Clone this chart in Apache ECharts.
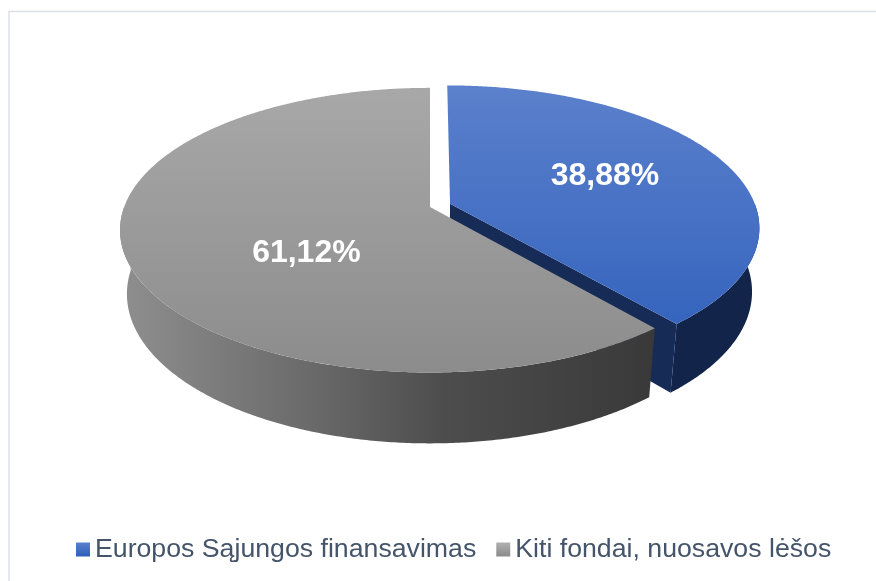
<!DOCTYPE html>
<html><head><meta charset="utf-8">
<script src="https://cdn.jsdelivr.net/npm/echarts@6/dist/echarts.min.js"></script>
<style>html,body{margin:0;padding:0;background:#fff}#c{width:876px;height:581px}</style>
</head><body><div id="c"></div>
<script>
// ---- data ----
const categories = ['Europos Sąjungos finansavimas', 'Kiti fondai, nuosavos lėšos'];
const shares = [38.88, 61.12];
const labels = ['38,88%', '61,12%'];

// ---- style / layout ----
const topColors = [['#5b80cc', '#2e5fbb'], ['#a8a8a8', '#8c8c8c']];
const wallStops = [
  [[0, '#172b57'], [1, '#12244a']],
  [[0, '#8e8e8e'], [0.35, '#6a6a6a'], [0.6, '#4d4d4d'], [1, '#393939']]
];
const legendColors = [['#5b80cc', '#2e5fbb'], ['#b0b0b0', '#8a8a8a']];
const explode = [0.07, 0];
const labelRadius = [0.56, 0.42];
const labelShift = [[0, -2], [0, 26]];
const cam = { cx: 430, cy: 207, F: 1573, D: 5.4, phi: 28.4 * Math.PI / 180, sx: 1.05, h: 0.252 };

const S = Math.sin(cam.phi), C = Math.cos(cam.phi);
function proj(X, Y, Z) {
  const d = cam.D - (Y * S + Z * C);
  return [cam.cx + cam.sx * cam.F * X / d, cam.cy - cam.F * (Y * C - Z * S) / d];
}
const rad = a => a * Math.PI / 180;
const total = shares.reduce((a, b) => a + b, 0);

function sliceAngles(i) {
  let before = 0;
  for (let k = 0; k < i; k++) before += shares[k];
  return [before / total * 360, (before + shares[i]) / total * 360];
}

function rimPts(ox, oz, a0, a1, Y) {
  const pts = [];
  const n = Math.max(2, Math.ceil(Math.abs(a1 - a0) / 0.5));
  for (let j = 0; j <= n; j++) {
    const a = rad(a0 + (a1 - a0) * j / n);
    pts.push(proj(ox + Math.sin(a), Y, oz - Math.cos(a)));
  }
  return pts;
}

function makeRender(i) {
  return function (params, api) {
    const val = api.value(0);
    const [a0, a1] = sliceAngles(i);
    const mid = rad((a0 + a1) / 2);
    const ox = explode[i] * Math.sin(mid), oz = -explode[i] * Math.cos(mid);
    const h = cam.h;
    const children = [];
    const leftP = proj(-1, 0, 0), rightP = proj(1, 0, 0);
    const wallGrad = new echarts.graphic.LinearGradient(leftP[0], 0, rightP[0] - 80, 0, wallStops[i].map(s => ({ offset: s[0], color: s[1] })), true);
    // outer wall (near half)
    const w0 = Math.max(a0, 90), w1 = Math.min(a1, 270);
    if (w1 > w0) {
      const top = rimPts(ox, oz, w0, w1, 0);
      const bot = rimPts(ox, oz, w1, w0, -h);
      children.push({ type: 'polygon', shape: { points: top.concat(bot) }, style: { fill: wallGrad } });
    }
    // radial faces that face the viewer
    const faces = [[a1, 1], [a0, -1]];
    faces.forEach(([a, sgn]) => {
      const nx = sgn * Math.cos(rad(a)), nz = sgn * Math.sin(rad(a));
      const dot = -ox * nx + (cam.D * C - oz) * nz;
      if (dot > 0.1) {
        const ra = rad(a);
        const pts = [proj(ox, 0, oz), proj(ox + Math.sin(ra), 0, oz - Math.cos(ra)),
                     proj(ox + Math.sin(ra), -h, oz - Math.cos(ra)), proj(ox, -h, oz)];
        children.push({ type: 'polygon', shape: { points: pts }, style: { fill: wallStops[i][0][1] } });
      }
    });
    // top face
    const farP = proj(0, 0, -1), nearP = proj(0, 0, 1);
    const topGrad = new echarts.graphic.LinearGradient(0, farP[1], 0, nearP[1],
      [{ offset: 0, color: topColors[i][0] }, { offset: 1, color: topColors[i][1] }], true);
    const topPts = [proj(ox, 0, oz)].concat(rimPts(ox, oz, a0, a1, 0));
    children.push({ type: 'polygon', shape: { points: topPts }, style: { fill: topGrad } });
    // label
    const lp = proj(ox + labelRadius[i] * Math.sin(mid), 0, oz - labelRadius[i] * Math.cos(mid));
    children.push({
      type: 'text',
      style: {
        text: labels[i], x: lp[0] + labelShift[i][0], y: lp[1] + labelShift[i][1],
        fill: '#ffffff', font: 'bold 32px "Liberation Sans", Arial, sans-serif',
        textAlign: 'center', textVerticalAlign: 'middle', align: 'center', verticalAlign: 'middle'
      }
    });
    return { type: 'group', children };
  };
}

const chart = echarts.init(document.getElementById('c'), null, { renderer: 'canvas' });
chart.setOption({
  animation: false,
  backgroundColor: '#ffffff',
  graphic: [{
    type: 'rect', shape: { x: 9, y: 11.5, width: 900, height: 600 },
    style: { fill: 'none', stroke: '#dcdfe7', lineWidth: 1.5 }, z: -10
  }],
  legend: {
    data: categories,
    left: 76, top: 536, padding: 0,
    itemWidth: 14, itemHeight: 14, itemGap: 20,
    icon: 'rect',
    textStyle: { fontSize: 26.7, color: '#44546a', fontFamily: '"Liberation Sans", Arial, sans-serif' }
  },
  series: categories.map((name, i) => ({
    type: 'custom',
    name: name,
    coordinateSystem: 'none',
    renderItem: makeRender(i),
    itemStyle: {
      color: new echarts.graphic.LinearGradient(0, 0, 0, 1,
        [{ offset: 0, color: legendColors[i][0] }, { offset: 1, color: legendColors[i][1] }])
    },
    data: [[shares[i]]],
    silent: true
  }))
});
</script>
</body></html>
